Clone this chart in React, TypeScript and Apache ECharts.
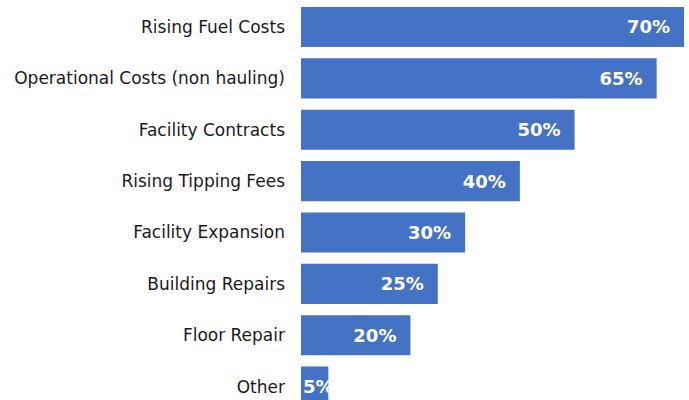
import React, { useEffect, useRef } from "react";
import * as echarts from "echarts";

const categories = [
  "Rising Fuel Costs",
  "Operational Costs (non hauling)",
  "Facility Contracts",
  "Rising Tipping Fees",
  "Facility Expansion",
  "Building Repairs",
  "Floor Repair",
  "Other",
];
const values = [70, 65, 50, 40, 30, 25, 20, 5];

export default function App() {
  const ref = useRef<HTMLDivElement>(null);
  useEffect(() => {
    if (!ref.current) return;
    const chart = echarts.init(ref.current, null, { renderer: "svg" });
    const font = "'DejaVu Sans', Verdana, sans-serif";
    chart.setOption({
      animation: false,
      grid: {
        left: 301,
        width: 383,
        top: 1.3,
        height: 411,
        containLabel: false,
        outerBoundsMode: "none",
      },
      xAxis: {
        type: "value",
        min: 0,
        max: 70,
        show: false,
      },
      yAxis: {
        type: "category",
        inverse: true,
        data: categories,
        axisLine: { show: false },
        axisTick: { show: false },
        axisLabel: { color: "#1a1a1a", fontSize: 17, fontFamily: font, margin: 16 },
      },
      series: [
        {
          type: "bar",
          barCategoryGap: "22%",
          itemStyle: { color: "#4472C4" },
          data: values.map((v, i) =>
            i === values.length - 1
              ? { value: v, label: { position: "insideLeft", offset: [-3, 0] } }
              : v
          ),
          label: {
            show: true,
            position: "insideRight",
            offset: [-9, 0],
            formatter: "{c}%",
            color: "#fff",
            fontWeight: "bold",
            fontSize: 18,
            fontFamily: font,
          },
        },
      ],
    });
    return () => chart.dispose();
  }, []);
  return (
    <div
      ref={ref}
      style={{ position: "fixed", left: 0, top: 0, width: 689, height: 400, background: "#fff" }}
    />
  );
}
